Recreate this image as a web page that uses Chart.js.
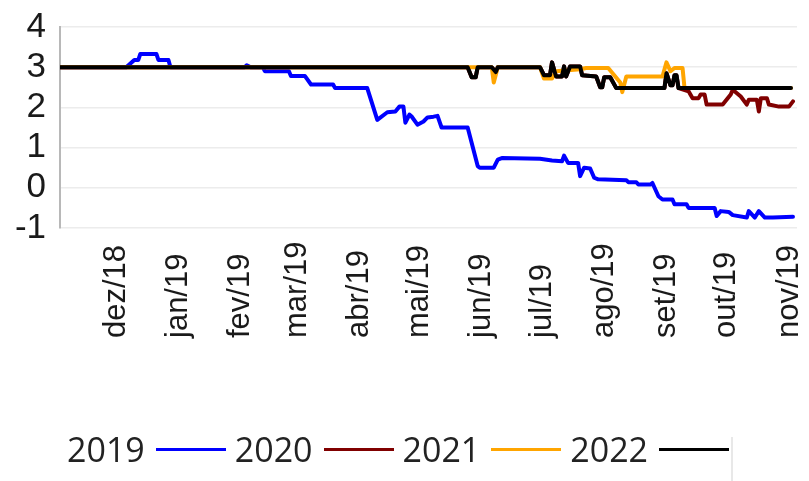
<!DOCTYPE html>
<html>
<head>
<meta charset="utf-8">
<script src="https://cdn.jsdelivr.net/npm/chart.js@4.4.0/dist/chart.umd.js"></script>
<style>
    body { margin: 0; background: #fff; }
    #wrap { position: relative; width: 809px; height: 481px; }
    #legend {
        position: absolute;
        left: 67px;
        top: 432px;
        display: flex;
        align-items: center;
        font-family: 'Open Sans', 'Noto Sans', sans-serif;
        font-size: 34px;
        line-height: 34px;
        color: #222;
    }
    #legend .swatch { display: inline-block; width: 70px; height: 3px; margin: 0 9px 0 11px; }
    #legend-edge { position: absolute; left: 731px; top: 437px; width: 0; height: 44px; border-left: 2px solid #e8e8e8; }
</style>
</head>
<body>
<div id="wrap">
    <canvas id="chart" width="809" height="481"></canvas>
    <div id="legend"></div>
    <div id="legend-edge"></div>
</div>
<script>
// Eixo X: inicio de cada mes
const monthLabels = ['dez/18', 'jan/19', 'fev/19', 'mar/19', 'abr/19', 'mai/19',
                     'jun/19', 'jul/19', 'ago/19', 'set/19', 'out/19', 'nov/19'];
const monthStarts = ['2018-12-01', '2019-01-01', '2019-02-01', '2019-03-01', '2019-04-01', '2019-05-01',
                     '2019-06-01', '2019-07-01', '2019-08-01', '2019-09-01', '2019-10-01', '2019-11-01'];
const axisStart = '2018-11-03';
const axisEnd = '2019-11-05';
const yMin = -1, yMax = 4;

const seriesNames = ['2019', '2020', '2021', '2022'];
const seriesColors = ['#0000ff', '#800000', '#ffa500', '#000000'];

// 2019
const dates2019 = ['2018-11-03', '2018-12-06', '2018-12-10', '2018-12-12', '2018-12-13', '2018-12-21', '2018-12-22',
    '2018-12-27', '2018-12-28', '2019-02-03', '2019-02-04', '2019-02-06', '2019-02-12', '2019-02-13', '2019-02-25',
    '2019-02-26', '2019-03-05', '2019-03-08', '2019-03-19', '2019-03-20', '2019-04-05', '2019-04-10', '2019-04-15',
    '2019-04-19', '2019-04-21', '2019-04-23', '2019-04-24', '2019-04-26', '2019-04-27', '2019-04-30', '2019-05-03',
    '2019-05-05', '2019-05-08', '2019-05-10', '2019-05-12', '2019-05-25', '2019-05-30', '2019-05-31', '2019-06-07',
    '2019-06-09', '2019-06-11', '2019-06-30', '2019-07-06', '2019-07-11', '2019-07-12', '2019-07-14', '2019-07-19',
    '2019-07-20', '2019-07-22', '2019-07-25', '2019-07-27', '2019-07-29', '2019-08-12', '2019-08-13', '2019-08-17',
    '2019-08-18', '2019-08-24', '2019-08-25', '2019-08-28', '2019-08-30', '2019-09-04', '2019-09-05', '2019-09-11',
    '2019-09-12', '2019-09-25', '2019-09-26', '2019-09-28', '2019-10-02', '2019-10-04', '2019-10-11', '2019-10-12',
    '2019-10-15', '2019-10-17', '2019-10-20', '2019-10-24', '2019-11-03'];
const values2019 = [3.0, 3.0, 3.18, 3.18, 3.33, 3.33, 3.18,
    3.18, 3.0, 3.0, 3.05, 3.0, 3.0, 2.9, 2.9,
    2.78, 2.78, 2.57, 2.57, 2.48, 2.48, 1.69, 1.88,
    1.9, 2.02, 2.02, 1.62, 1.82, 1.78, 1.57, 1.65,
    1.75, 1.77, 1.79, 1.5, 1.5, 0.54, 0.5, 0.5,
    0.7, 0.74, 0.72, 0.68, 0.66, 0.8, 0.62, 0.62,
    0.29, 0.5, 0.48, 0.25, 0.21, 0.19, 0.14, 0.14,
    0.08, 0.08, 0.12, -0.21, -0.29, -0.29, -0.41, -0.41,
    -0.5, -0.5, -0.7, -0.58, -0.6, -0.68, -0.74, -0.58,
    -0.74, -0.58, -0.74, -0.74, -0.72];

// 2020
const dates2020 = ['2018-11-03', '2019-05-25', '2019-05-27', '2019-05-29', '2019-05-30', '2019-06-06', '2019-06-08',
    '2019-06-09', '2019-06-30', '2019-07-02', '2019-07-05', '2019-07-06', '2019-07-08', '2019-07-11', '2019-07-12',
    '2019-07-13', '2019-07-15', '2019-07-20', '2019-07-21', '2019-07-28', '2019-07-30', '2019-07-31', '2019-08-01',
    '2019-08-04', '2019-08-07', '2019-08-31', '2019-09-01', '2019-09-03', '2019-09-04', '2019-09-05', '2019-09-06',
    '2019-09-07', '2019-09-12', '2019-09-14', '2019-09-17', '2019-09-18', '2019-09-20', '2019-09-21', '2019-09-29',
    '2019-10-03', '2019-10-04', '2019-10-08', '2019-10-11', '2019-10-12', '2019-10-16', '2019-10-17', '2019-10-18',
    '2019-10-21', '2019-10-22', '2019-10-27', '2019-11-01', '2019-11-03'];
const values2020 = [3.0, 3.0, 2.75, 2.75, 3.0, 3.0, 2.88,
    3.0, 3.0, 2.8, 2.8, 3.12, 2.77, 2.77, 3.02,
    2.77, 3.02, 3.02, 2.8, 2.77, 2.5, 2.5, 2.75,
    2.75, 2.48, 2.48, 2.85, 2.55, 2.55, 2.8, 2.8,
    2.48, 2.4, 2.23, 2.23, 2.32, 2.32, 2.07, 2.07,
    2.32, 2.44, 2.27, 2.07, 2.19, 2.19, 1.9, 2.23,
    2.23, 2.07, 2.02, 2.02, 2.15];

// 2021
const dates2021 = ['2018-11-03', '2019-06-06', '2019-06-07', '2019-06-09', '2019-06-30', '2019-07-02', '2019-07-06',
    '2019-07-08', '2019-07-20', '2019-07-23', '2019-08-03', '2019-08-09', '2019-08-10', '2019-08-12', '2019-08-30',
    '2019-09-01', '2019-09-03', '2019-09-05', '2019-09-09', '2019-09-10', '2019-11-02'];
const values2021 = [3.0, 3.0, 2.62, 3.0, 3.0, 2.72, 2.72,
    2.9, 2.95, 2.98, 2.98, 2.62, 2.38, 2.77, 2.77,
    3.12, 2.9, 2.98, 2.98, 2.48, 2.48];

// 2022
const dates2022 = ['2018-11-03', '2019-05-25', '2019-05-27', '2019-05-29', '2019-05-30', '2019-06-06', '2019-06-08',
    '2019-06-09', '2019-06-30', '2019-07-02', '2019-07-05', '2019-07-06', '2019-07-08', '2019-07-11', '2019-07-12',
    '2019-07-13', '2019-07-15', '2019-07-20', '2019-07-21', '2019-07-28', '2019-07-30', '2019-07-31', '2019-08-01',
    '2019-08-04', '2019-08-07', '2019-08-31', '2019-09-01', '2019-09-03', '2019-09-04', '2019-09-05', '2019-09-06',
    '2019-09-07', '2019-11-02'];
const values2022 = [3.0, 3.0, 2.75, 2.75, 3.0, 3.0, 2.88,
    3.0, 3.0, 2.8, 2.8, 3.12, 2.77, 2.77, 3.02,
    2.77, 3.02, 3.02, 2.8, 2.77, 2.5, 2.5, 2.75,
    2.75, 2.48, 2.48, 2.85, 2.55, 2.55, 2.8, 2.8,
    2.48, 2.48];

const allDates = [dates2019, dates2020, dates2021, dates2022];
const allValues = [values2019, values2020, values2021, values2022];

// dias desde 1/dez/2018
const day0 = Date.UTC(2018, 11, 1);
const toDay = s => (Date.parse(s) - day0) / 864e5;

const datasets = seriesNames.map((name, i) => ({
    label: name,
    data: allDates[i].map((d, k) => ({ x: toDay(d), y: allValues[i][k] })),
    borderColor: seriesColors[i],
    backgroundColor: seriesColors[i],
    borderWidth: 4,
    pointRadius: 0,
    tension: 0,
    borderJoinStyle: 'round',
    borderCapStyle: 'round',
    order: 3 - i
}));

// rotulos do eixo X alinhados pela base
const monthLabelPlugin = {
    id: 'monthLabels',
    afterDraw(chart) {
        const ctx = chart.ctx;
        const xs = chart.scales.x;
        ctx.save();
        ctx.font = '31px "Liberation Sans", Arial, sans-serif';
        ctx.fillStyle = '#1a1a1a';
        ctx.textAlign = 'left';
        ctx.textBaseline = 'middle';
        monthStarts.forEach((d, i) => {
            const px = xs.getPixelForValue(toDay(d));
            ctx.save();
            ctx.translate(px, 338);
            ctx.rotate(-Math.PI / 2);
            ctx.fillText(monthLabels[i], 0, 0);
            ctx.restore();
        });
        ctx.restore();
    }
};

new Chart(document.getElementById('chart'), {
    type: 'line',
    data: { datasets: datasets },
    options: {
        responsive: false,
        animation: false,
        layout: { padding: { top: 27, right: 12, left: 0, bottom: 0 } },
        plugins: {
            legend: { display: false },
            tooltip: { enabled: false }
        },
        scales: {
            x: {
                type: 'linear',
                min: toDay(axisStart),
                max: toDay(axisEnd),
                ticks: { display: false },
                grid: { display: false },
                border: { display: false },
                afterFit(scale) { scale.height = 253; }
            },
            y: {
                min: yMin,
                max: yMax,
                ticks: {
                    stepSize: 1,
                    autoSkip: false,
                    padding: 14,
                    color: '#1a1a1a',
                    font: { family: '"Liberation Sans", Arial, sans-serif', size: 35 }
                },
                grid: { color: '#ececec', lineWidth: 1.5, drawTicks: false },
                border: { color: '#b8b8b8', width: 2 },
                afterFit(scale) {
                    scale.width = 60;
                    scale.paddingTop = 0;
                    scale.paddingBottom = 0;
                }
            }
        }
    },
    plugins: [monthLabelPlugin]
});

// legenda: texto seguido da linha
const legend = document.getElementById('legend');
seriesNames.forEach((name, i) => {
    const txt = document.createElement('span');
    txt.textContent = name;
    const sw = document.createElement('span');
    sw.className = 'swatch';
    sw.style.background = seriesColors[i];
    legend.appendChild(txt);
    legend.appendChild(sw);
});
</script>
</body>
</html>
